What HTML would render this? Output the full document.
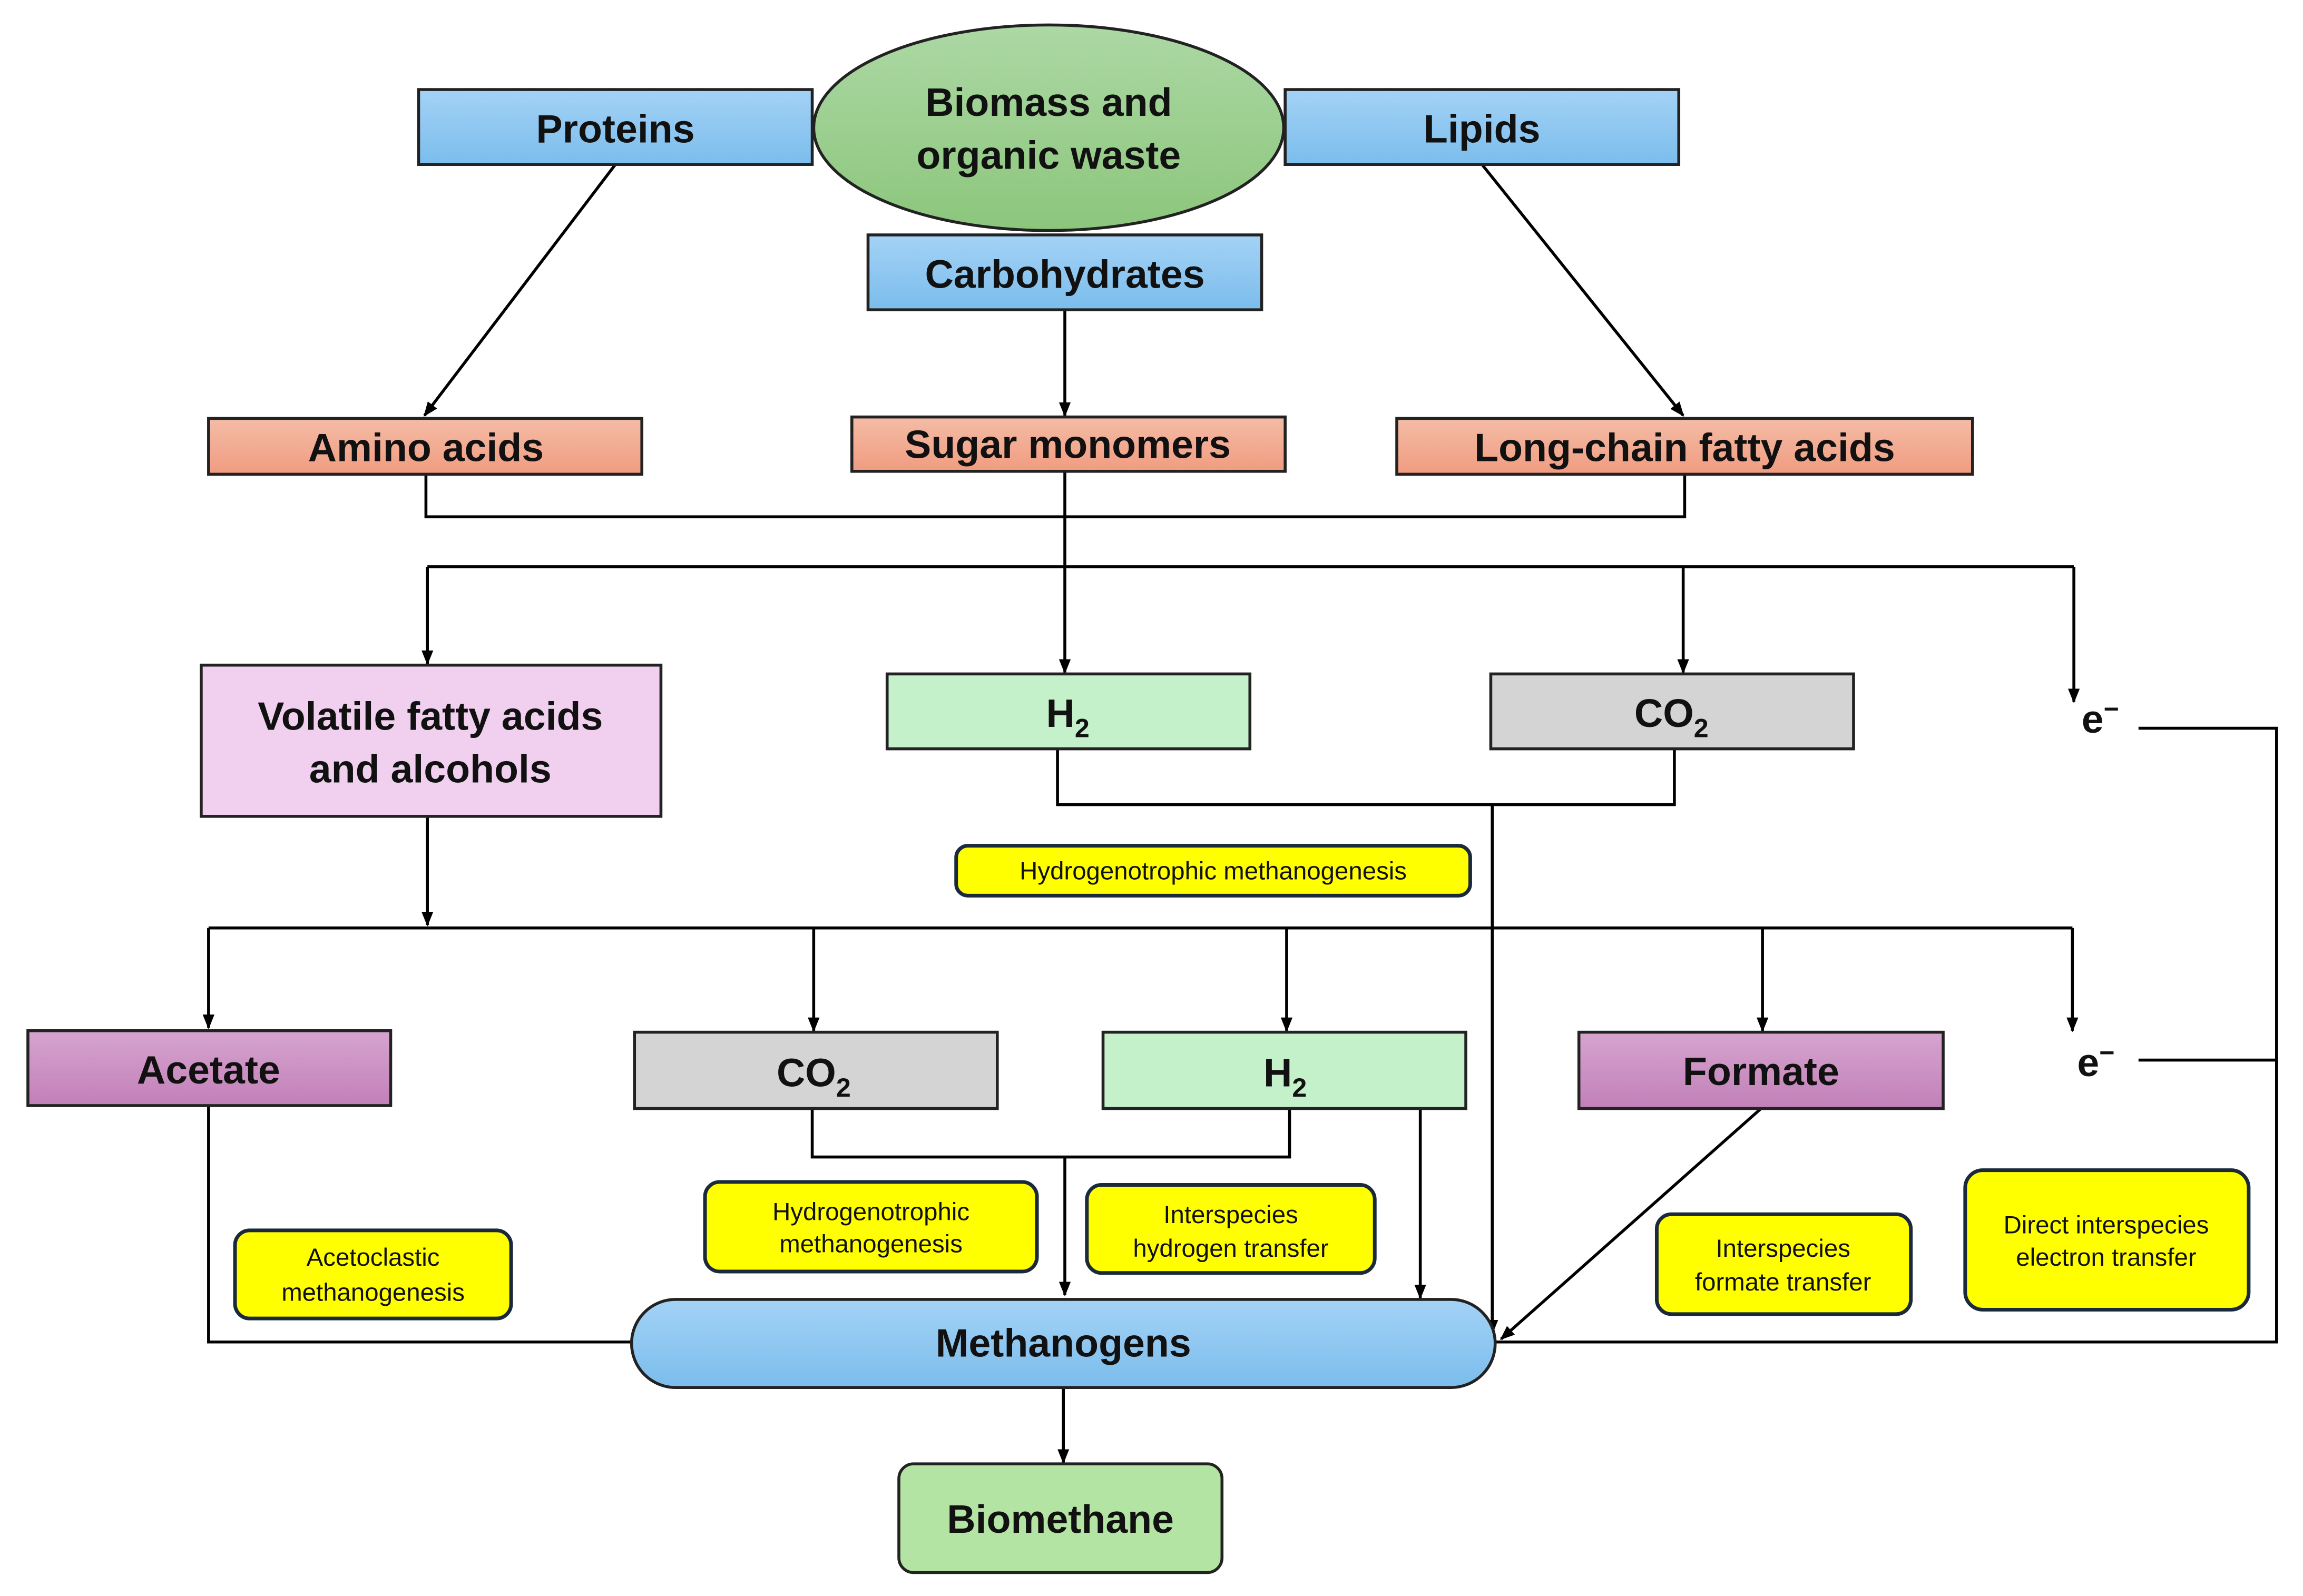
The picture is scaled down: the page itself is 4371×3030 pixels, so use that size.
<!DOCTYPE html>
<html><head><meta charset="utf-8"><style>html,body{margin:0;padding:0;background:#fff}svg{display:block}</style></head><body>
<svg width="4371" height="3030" viewBox="0 0 1568 1087" preserveAspectRatio="none" xmlns="http://www.w3.org/2000/svg" font-family="Liberation Sans, Arial, sans-serif">
<defs>
<linearGradient id="bl" x1="0" y1="0" x2="0" y2="1"><stop offset="0" stop-color="#a4d2f6"/><stop offset="1" stop-color="#7bbdec"/></linearGradient>
<linearGradient id="gr" x1="0" y1="0" x2="0" y2="1"><stop offset="0" stop-color="#acd8a4"/><stop offset="1" stop-color="#8cc67c"/></linearGradient>
<linearGradient id="sa" x1="0" y1="0" x2="0" y2="1"><stop offset="0" stop-color="#f4bca6"/><stop offset="1" stop-color="#f09c80"/></linearGradient>
<linearGradient id="pu" x1="0" y1="0" x2="0" y2="1"><stop offset="0" stop-color="#d6a4cf"/><stop offset="1" stop-color="#c280b8"/></linearGradient>
<marker id="a" markerWidth="10" markerHeight="10" refX="9" refY="5" orient="auto" markerUnits="userSpaceOnUse"><path d="M0,1 L10,5 L0,9 z" fill="#000"/></marker>
</defs>
<g stroke="#000" stroke-width="2" fill="none">
<line x1="419" y1="112" x2="289" y2="283" marker-end="url(#a)"/>
<line x1="725" y1="211" x2="725" y2="283" marker-end="url(#a)"/>
<line x1="1009" y1="112" x2="1146" y2="283" marker-end="url(#a)"/>
<polyline points="290,323 290,352 1147,352 1147,323"/>
<line x1="725" y1="321" x2="725" y2="386"/>
<line x1="291" y1="386" x2="1412" y2="386"/>
<line x1="291" y1="386" x2="291" y2="452" marker-end="url(#a)"/>
<line x1="725" y1="386" x2="725" y2="458" marker-end="url(#a)"/>
<line x1="1146" y1="386" x2="1146" y2="458" marker-end="url(#a)"/>
<line x1="1412" y1="386" x2="1412" y2="478" marker-end="url(#a)"/>
<polyline points="1456,496 1550,496 1550,914 1018,914"/>
<polyline points="720,510 720,548 1140,548 1140,510"/>
<line x1="1016" y1="548" x2="1016" y2="908" marker-end="url(#a)"/>
<line x1="291" y1="556" x2="291" y2="630" marker-end="url(#a)"/>
<line x1="142" y1="632" x2="1411" y2="632"/>
<line x1="142" y1="632" x2="142" y2="700" marker-end="url(#a)"/>
<line x1="554" y1="632" x2="554" y2="702" marker-end="url(#a)"/>
<line x1="876" y1="632" x2="876" y2="702" marker-end="url(#a)"/>
<line x1="1200" y1="632" x2="1200" y2="702" marker-end="url(#a)"/>
<line x1="1411" y1="632" x2="1411" y2="702" marker-end="url(#a)"/>
<line x1="1456" y1="722" x2="1550" y2="722"/>
<polyline points="553,755 553,788 878,788 878,755"/>
<line x1="725" y1="788" x2="725" y2="882" marker-end="url(#a)"/>
<line x1="967" y1="755" x2="967" y2="884" marker-end="url(#a)"/>
<line x1="1199" y1="755" x2="1022" y2="912" marker-end="url(#a)"/>
<polyline points="142,753 142,914 430,914"/>
<line x1="724" y1="945" x2="724" y2="996" marker-end="url(#a)"/>
</g>
<g stroke="#222" stroke-width="2">
<rect x="285" y="61" width="268" height="51" fill="url(#bl)"/>
<rect x="875" y="61" width="268" height="51" fill="url(#bl)"/>
<ellipse cx="714" cy="87" rx="160" ry="70" fill="url(#gr)"/>
<rect x="591" y="160" width="268" height="51" fill="url(#bl)"/>
<rect x="142" y="285" width="295" height="38" fill="url(#sa)"/>
<rect x="580" y="284" width="295" height="37" fill="url(#sa)"/>
<rect x="951" y="285" width="392" height="38" fill="url(#sa)"/>
<rect x="137" y="453" width="313" height="103" fill="#f0d0ee"/>
<rect x="604" y="459" width="247" height="51" fill="#c4f0ca"/>
<rect x="1015" y="459" width="247" height="51" fill="#d4d4d4"/>
<rect x="19" y="702" width="247" height="51" fill="url(#pu)"/>
<rect x="432" y="703" width="247" height="52" fill="#d4d4d4"/>
<rect x="751" y="703" width="247" height="52" fill="#c4f0ca"/>
<rect x="1075" y="703" width="248" height="52" fill="url(#pu)"/>
<rect x="430" y="885" width="588" height="60" rx="30" ry="30" fill="url(#bl)"/>
<rect x="612" y="997" width="220" height="74" rx="10" fill="#b4e4a4"/>
</g>
<g fill="#ffff00" stroke="#1a2a3a" stroke-width="2.5">
<rect x="651" y="576" width="350" height="34" rx="8"/>
<rect x="160" y="838" width="188" height="60" rx="10"/>
<rect x="480" y="805" width="226" height="61" rx="10"/>
<rect x="740" y="807" width="196" height="60" rx="10"/>
<rect x="1128" y="827" width="173" height="68" rx="10"/>
<rect x="1338" y="797" width="193" height="95" rx="12"/>
</g>
<g font-weight="bold" font-size="27" text-anchor="middle" fill="#111">
<text x="419" y="97">Proteins</text>
<text x="1009" y="97">Lipids</text>
<text x="714" y="79">Biomass and</text>
<text x="714" y="115">organic waste</text>
<text x="725" y="196">Carbohydrates</text>
<text x="290" y="314">Amino acids</text>
<text x="727" y="312">Sugar monomers</text>
<text x="1147" y="314">Long-chain fatty acids</text>
<text x="293" y="497">Volatile fatty acids</text>
<text x="293" y="533">and alcohols</text>
<text x="727" y="495">H<tspan font-size="18" dy="7">2</tspan></text>
<text x="1138" y="495">CO<tspan font-size="18" dy="7">2</tspan></text>
<text x="1430" y="499">e<tspan font-size="18" dy="-10">−</tspan></text>
<text x="142" y="738">Acetate</text>
<text x="554" y="740">CO<tspan font-size="18" dy="7">2</tspan></text>
<text x="875" y="740">H<tspan font-size="18" dy="7">2</tspan></text>
<text x="1199" y="739">Formate</text>
<text x="1427" y="733">e<tspan font-size="18" dy="-10">−</tspan></text>
<text x="724" y="924">Methanogens</text>
<text x="722" y="1044">Biomethane</text>
</g>
<g font-size="17" text-anchor="middle" fill="#111">
<text x="826" y="599">Hydrogenotrophic methanogenesis</text>
<text x="254" y="862">Acetoclastic</text>
<text x="254" y="886">methanogenesis</text>
<text x="593" y="831">Hydrogenotrophic</text>
<text x="593" y="853">methanogenesis</text>
<text x="838" y="833">Interspecies</text>
<text x="838" y="856">hydrogen transfer</text>
<text x="1214" y="856">Interspecies</text>
<text x="1214" y="879">formate transfer</text>
<text x="1434" y="840">Direct interspecies</text>
<text x="1434" y="862">electron transfer</text>
</g>
</svg>
</body></html>
